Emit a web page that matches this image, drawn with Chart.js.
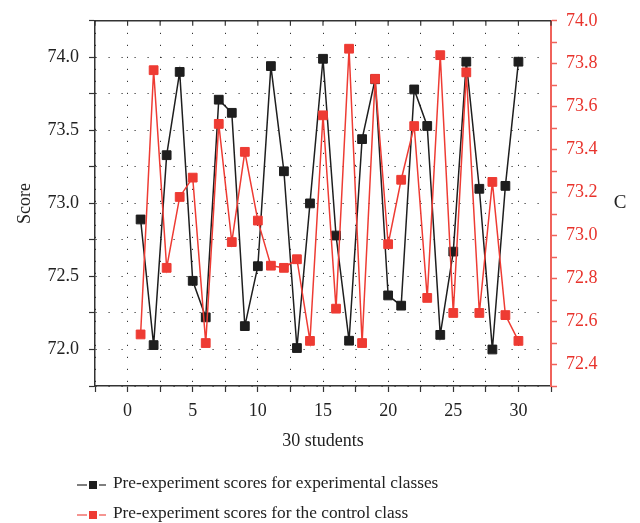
<!DOCTYPE html>
<html>
<head>
<meta charset="utf-8">
<script src="https://cdn.jsdelivr.net/npm/chart.js@4.4.0/dist/chart.umd.min.js"></script>
<style>
  html, body { margin: 0; padding: 0; background: #fff; }
</style>
</head>
<body>
<canvas id="scoreChart" width="640" height="523"></canvas>
<script>
// 30 students, pre-experiment scores
const students = [1, 2, 3, 4, 5, 6, 7, 8, 9, 10, 11, 12, 13, 14, 15,
  16, 17, 18, 19, 20, 21, 22, 23, 24, 25, 26, 27, 28, 29, 30];
const experimental = [72.89, 72.03, 73.33, 73.90, 72.47, 72.22, 73.71, 73.62, 72.16, 72.57,
  73.94, 73.22, 72.01, 73.00, 73.99, 72.78, 72.06, 73.44, 73.85, 72.37,
  72.30, 73.78, 73.53, 72.10, 72.67, 73.97, 73.10, 72.00, 73.12, 73.97];
const control = [72.54, 73.77, 72.85, 73.18, 73.27, 72.50, 73.52, 72.97, 73.39, 73.07,
  72.86, 72.85, 72.89, 72.51, 73.56, 72.66, 73.87, 72.50, 73.73, 72.96,
  73.26, 73.51, 72.71, 73.84, 72.64, 73.76, 72.64, 73.25, 72.63, 72.51];

const xTickLabels = [0, 5, 10, 15, 20, 25, 30];
const leftTickLabels = [72.0, 72.5, 73.0, 73.5, 74.0];
const rightTickLabels = [72.4, 72.6, 72.8, 73.0, 73.2, 73.4, 73.6, 73.8, 74.0];

const seriesNames = [
  "Pre-experiment scores for experimental classes",
  "Pre-experiment scores for the control class"
];

const SERIF = "'Liberation Serif', 'DejaVu Serif', serif";
const BLACK = "#1e1e1e";
const RED = "#ee3b33";
const RED_AXIS = "#f0625b";

const hasLabel = (list, v) => list.some(t => Math.abs(t - v) < 1e-6);

// top frame line with inward ticks, the right title and the legend
const extras = {
  id: "extras",
  afterDraw(chart) {
    const { ctx, chartArea: a, scales } = chart;
    ctx.save();
    ctx.strokeStyle = "#333";
    ctx.lineWidth = 1.5;
    ctx.beginPath();
    ctx.moveTo(a.left, a.top);
    ctx.lineTo(a.right, a.top);
    ctx.stroke();
    ctx.lineWidth = 1.2;
    scales.x.ticks.forEach(t => {
      const px = scales.x.getPixelForValue(t.value);
      ctx.beginPath();
      ctx.moveTo(px, a.top);
      ctx.lineTo(px, a.top + 5);
      ctx.stroke();
    });

    ctx.fillStyle = "#222";
    ctx.font = "19px " + SERIF;
    ctx.textAlign = "center";
    ctx.textBaseline = "middle";
    ctx.fillText("C", 620, (a.top + a.bottom) / 2);

    const colors = [BLACK, RED];
    const lineColors = ["#555", "#f2736d"];
    const baselines = [488, 518];
    ctx.font = "17.3px " + SERIF;
    ctx.textAlign = "left";
    ctx.textBaseline = "alphabetic";
    seriesNames.forEach((name, i) => {
      const y = baselines[i] - 3;
      ctx.strokeStyle = lineColors[i];
      ctx.lineWidth = 1.5;
      ctx.beginPath();
      ctx.moveTo(77, y);
      ctx.lineTo(87, y);
      ctx.moveTo(99, y);
      ctx.lineTo(106, y);
      ctx.stroke();
      ctx.fillStyle = colors[i];
      ctx.fillRect(89, y - 4, 8, 8);
      ctx.fillStyle = "#222";
      ctx.fillText(name, 113, baselines[i]);
    });
    ctx.restore();
  }
};

const ctx = document.getElementById("scoreChart").getContext("2d");
const chart = new Chart(ctx, {
  type: "line",
  data: {
    datasets: [{
      label: seriesNames[0],
      data: students.map((s, i) => ({ x: s, y: experimental[i] })),
      yAxisID: "y",
      borderColor: BLACK,
      borderWidth: 1.5,
      pointStyle: "rect",
      pointRadius: 6.2,
      pointBackgroundColor: BLACK,
      pointBorderColor: BLACK,
      pointBorderWidth: 1,
      tension: 0,
      order: 2
    }, {
      label: seriesNames[1],
      data: students.map((s, i) => ({ x: s, y: control[i] })),
      yAxisID: "y1",
      borderColor: RED,
      borderWidth: 1.5,
      pointStyle: "rect",
      pointRadius: 6.2,
      pointBackgroundColor: RED,
      pointBorderColor: RED,
      pointBorderWidth: 1,
      tension: 0,
      order: 1
    }]
  },
  options: {
    responsive: false,
    animation: false,
    layout: { padding: { top: 19, bottom: 67, left: 0, right: 0 } },
    plugins: {
      legend: { display: false },
      tooltip: { enabled: false }
    },
    scales: {
      x: {
        type: "linear",
        min: -2.5,
        max: 32.5,
        afterFit: s => { s.height = 70; },
        ticks: {
          stepSize: 2.5,
          autoSkip: false,
          maxRotation: 0,
          padding: 8,
          color: "#222",
          font: { family: SERIF, size: 18 },
          callback: v => hasLabel(xTickLabels, v) ? String(v) : ""
        },
        grid: { color: "#333", lineWidth: 1, tickLength: 6, tickColor: "#333", tickWidth: 1.2 },
        border: { color: "#333", width: 1.5, dash: [1.2, 10.8] },
        title: {
          display: true,
          text: "30 students",
          color: "#222",
          font: { family: SERIF, size: 18 },
          padding: { top: 0, bottom: 4 }
        }
      },
      y: {
        position: "left",
        min: 71.75,
        max: 74.25,
        afterFit: s => { s.width = 95; },
        ticks: {
          stepSize: 0.25,
          autoSkip: false,
          padding: 10,
          color: "#222",
          font: { family: SERIF, size: 18 },
          callback: v => hasLabel(leftTickLabels, v) ? v.toFixed(1) : ""
        },
        grid: { color: "#333", lineWidth: 1, tickLength: 6, tickColor: "#333", tickWidth: 1.2 },
        border: { color: "#333", width: 1.5, dash: [1.2, 11.8] },
        title: {
          display: true,
          text: "Score",
          color: "#222",
          font: { family: SERIF, size: 18 },
          padding: { top: 14, bottom: 0 }
        }
      },
      y1: {
        position: "right",
        min: 72.3,
        max: 74.0,
        afterFit: s => { s.width = 89; },
        ticks: {
          stepSize: 0.1,
          autoSkip: false,
          padding: 9,
          color: "#e8332c",
          font: { family: SERIF, size: 18 },
          callback: v => hasLabel(rightTickLabels, v) ? v.toFixed(1) : ""
        },
        grid: { drawOnChartArea: false, tickLength: 6, tickColor: RED_AXIS, tickWidth: 1.5 },
        border: { color: RED_AXIS, width: 2 }
      }
    }
  },
  plugins: [extras]
});
</script>
</body>
</html>
